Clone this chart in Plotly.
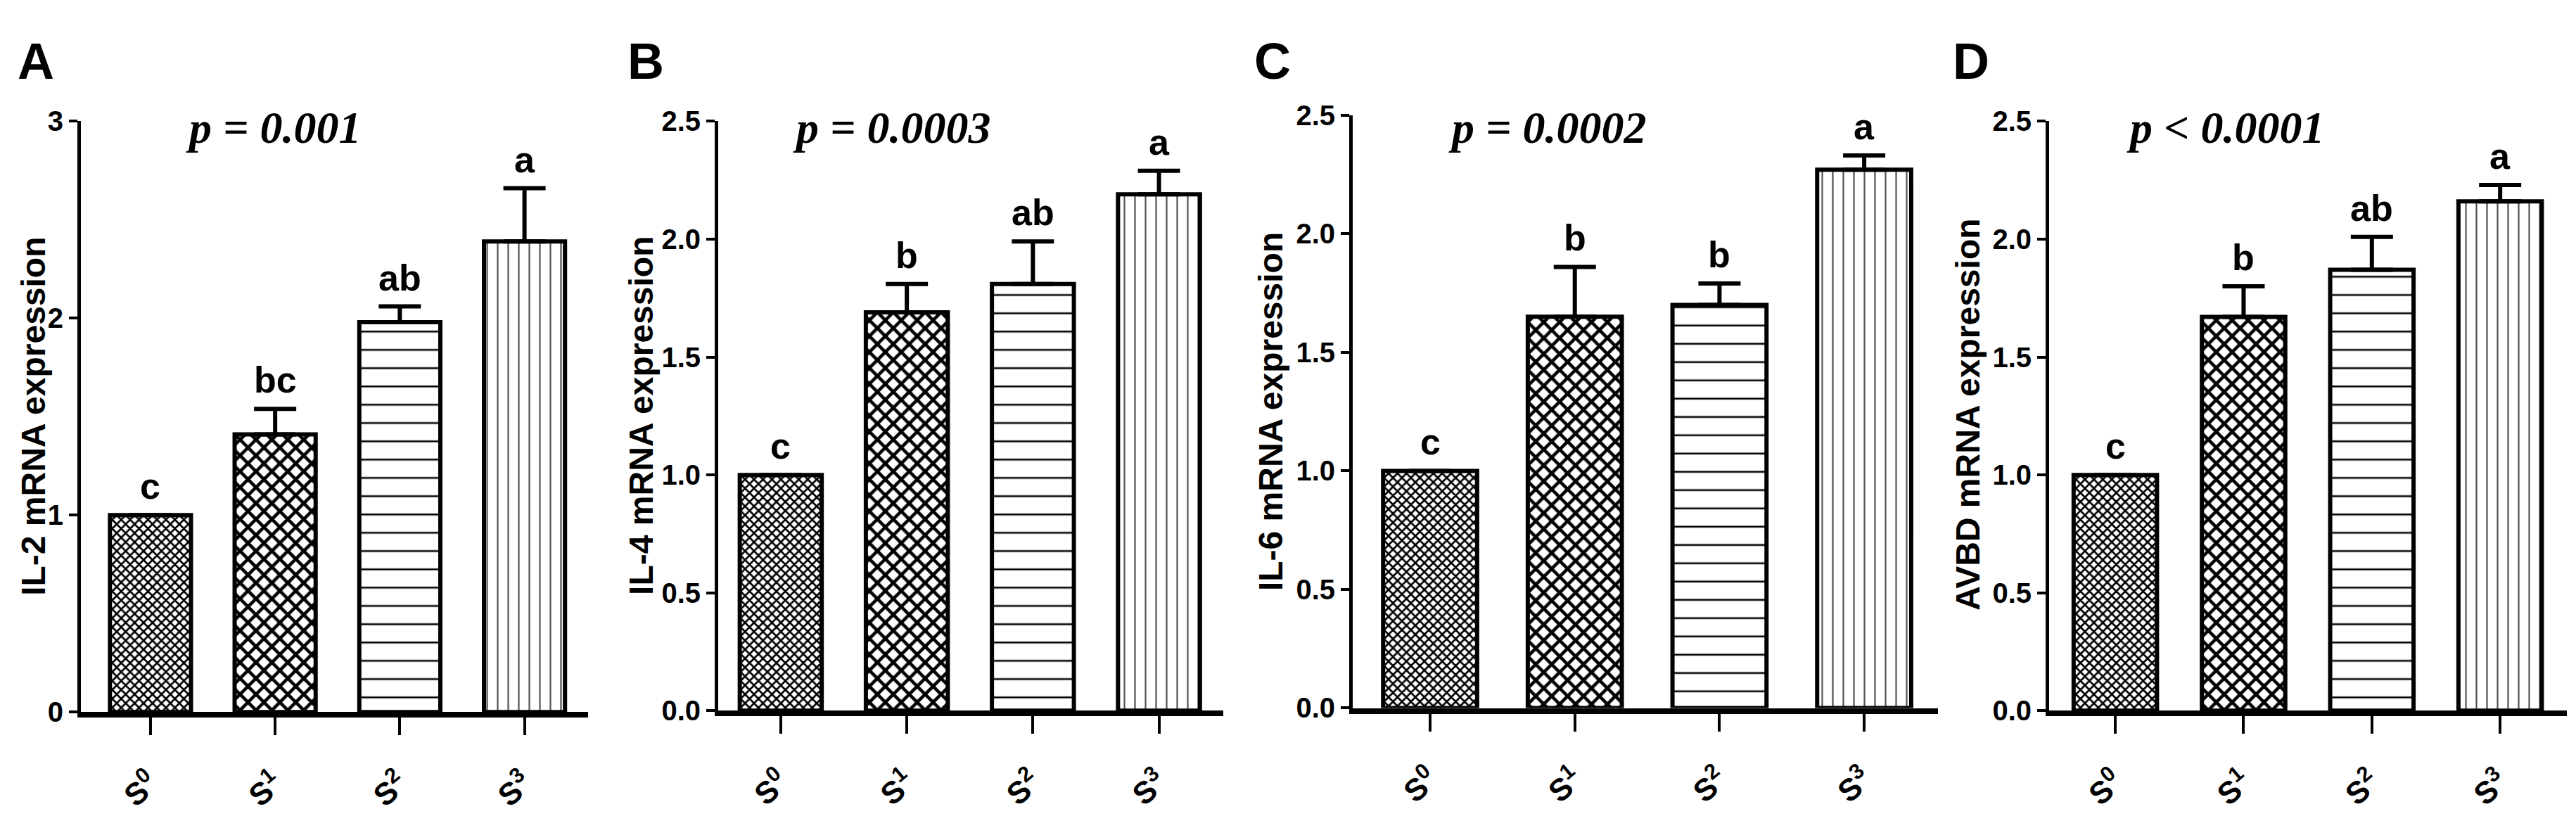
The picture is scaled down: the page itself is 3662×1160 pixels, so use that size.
import plotly.graph_objects as go

# groups and values
groups = ["S0", "S1", "S2", "S3"]
group_ticks = ["S<sup>0</sup>", "S<sup>1</sup>", "S<sup>2</sup>", "S<sup>3</sup>"]

il2_mean = [1.00, 1.41, 1.98, 2.39]
il2_err = [0.00, 0.13, 0.08, 0.27]
il2_sig = ["c", "bc", "ab", "a"]

il4_mean = [1.00, 1.69, 1.81, 2.19]
il4_err = [0.00, 0.12, 0.18, 0.10]
il4_sig = ["c", "b", "ab", "a"]

il6_mean = [1.00, 1.65, 1.70, 2.27]
il6_err = [0.00, 0.21, 0.09, 0.06]
il6_sig = ["c", "b", "b", "a"]

avbd_mean = [1.00, 1.67, 1.87, 2.16]
avbd_err = [0.00, 0.13, 0.14, 0.07]
avbd_sig = ["c", "b", "ab", "a"]

panel_letters = ["A", "B", "C", "D"]
y_titles = ["IL-2 mRNA expression", "IL-4 mRNA expression",
            "IL-6 mRNA expression", "AVBD mRNA expression"]
p_texts = ["p = 0.001", "p = 0.0003", "p = 0.0002", "p &lt; 0.0001"]
y_max = [3, 2.5, 2.5, 2.5]

panels = [
    (il2_mean, il2_err, il2_sig),
    (il4_mean, il4_err, il4_sig),
    (il6_mean, il6_err, il6_sig),
    (avbd_mean, avbd_err, avbd_sig),
]

W, H = 3662, 1160

# layout in pixels
panel_x = [(107, 828), (1013, 1731), (1915, 2747), (2905, 3641)]
panel_y = [(148, 1021), (148, 1019), (139, 1015), (148, 1019)]
x_ranges = [(-0.558, 3.51), (-0.496, 3.51), (-0.535, 3.51), (-0.516, 3.52)]
title_pos = [(40, 584), (904, 583), (1798, 577), (2790, 582)]
p_pos = [(380, 157), (1259, 157), (2191, 157), (3155, 157)]
letter_pos = [(43, 59), (910, 59), (1801, 59), (2794, 59)]

fx = lambda px: px / W
fy = lambda py: 1 - py / H

pattern = dict(
    shape=["x", "x", "-", "|"],
    size=[9, 16, 26, 15],
    solidity=[0.5, 0.5, 0.1, 0.15],
    fgcolor=["black", "black", "black", "#555555"],
    bgcolor="white",
    fillmode="replace",
)

sans = "Liberation Sans, Arial, sans-serif"

fig = go.Figure()
annotations = []

for i, (mean, err, sig) in enumerate(panels):
    n = "" if i == 0 else str(i + 1)
    xa, ya = "x" + n, "y" + n
    fig.add_trace(go.Bar(
        x=list(range(len(groups))), y=mean,
        xaxis=xa, yaxis=ya,
        marker=dict(color="white", line=dict(color="black", width=6), pattern=pattern),
        error_y=dict(type="data", array=err, arrayminus=[0] * len(err), symmetric=False,
                     color="black", thickness=6, width=30),
        showlegend=False,
        hovertext=groups,
    ))

    ticks = [0, 1, 2, 3] if y_max[i] == 3 else [0, 0.5, 1.0, 1.5, 2.0, 2.5]
    fig.update_layout(**{
        "xaxis" + n: dict(
            domain=[fx(panel_x[i][0]), fx(panel_x[i][1])],
            range=list(x_ranges[i]), anchor=ya,
            tickvals=list(range(len(groups))), ticktext=group_ticks,
            tickangle=-40, ticks="outside", ticklen=25, tickwidth=4, tickcolor="black",
            ticklabelstandoff=26, ticklabelshift=0,
            showline=True, linewidth=8, linecolor="black", showgrid=False, zeroline=False,
            tickfont=dict(family=sans, size=44, color="black", weight="bold"),
        ),
        "yaxis" + n: dict(
            domain=[fy(panel_y[i][1]), fy(panel_y[i][0])],
            range=[0, y_max[i]], anchor=xa,
            tickvals=ticks, tickformat="d" if y_max[i] == 3 else ".1f",
            ticks="outside", ticklen=12, tickwidth=4, tickcolor="black",
            showline=True, linewidth=5, linecolor="black", showgrid=False, zeroline=False,
            tickfont=dict(family=sans, size=40, color="black", weight="bold"),
        ),
    })

    # significance letters above each bar
    for j in range(len(groups)):
        annotations.append(dict(
            x=j, y=mean[j] + err[j], xref=xa, yref=ya,
            text=sig[j], showarrow=False, yanchor="bottom", yshift=10,
            font=dict(family=sans, size=52, color="black", weight="bold"),
        ))

    annotations.append(dict(
        x=fx(title_pos[i][0]), y=fy(title_pos[i][1]), xref="paper", yref="paper",
        text="<b>" + y_titles[i] + "</b>", textangle=-90, showarrow=False,
        xanchor="center", yanchor="middle",
        font=dict(family=sans, size=48, color="black", weight="bold"),
    ))
    annotations.append(dict(
        x=fx(p_pos[i][0]), y=fy(p_pos[i][1]), xref="paper", yref="paper",
        text="<b><i>" + p_texts[i] + "</i></b>", showarrow=False,
        xanchor="center", yanchor="middle",
        font=dict(family="Liberation Serif, Times New Roman, serif", size=64, color="black"),
    ))
    annotations.append(dict(
        x=fx(letter_pos[i][0]), y=fy(letter_pos[i][1]), xref="paper", yref="paper",
        text="<b>" + panel_letters[i] + "</b>", showarrow=False,
        xanchor="center", yanchor="middle",
        font=dict(family=sans, size=72, color="black"),
    ))

fig.update_layout(
    width=W, height=H,
    margin=dict(l=0, r=0, t=0, b=0),
    paper_bgcolor="white", plot_bgcolor="white",
    bargap=0.35,
    annotations=annotations,
)

fig.write_html("out.html")
